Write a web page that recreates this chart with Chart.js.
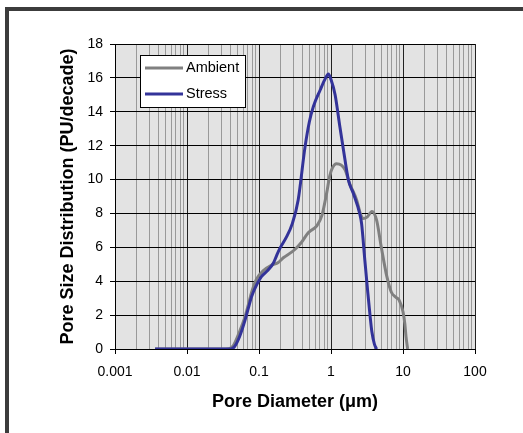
<!DOCTYPE html>
<html>
<head>
<meta charset="utf-8">
<script src="https://cdn.jsdelivr.net/npm/chart.js@4"></script>
<style>
  body { margin: 0; background: #fff; }
  canvas { display: block; }
</style>
</head>
<body>
<canvas id="psd" width="523" height="433"></canvas>
<script>
// pore diameter (um) and PSD values
const ambientDiam = [0.0036, 0.03, 0.038, 0.044, 0.054, 0.064, 0.071, 0.079, 0.093, 0.115, 0.15, 0.185, 0.22, 0.28, 0.32, 0.39, 0.48, 0.51, 0.63, 0.75, 0.87, 0.96, 1.05, 1.19, 1.39, 1.57, 1.8, 2.27, 2.6, 2.8, 3.2, 3.7, 4.3, 5.0, 5.95, 6.9, 8.0, 8.8, 10.0, 10.6, 11.0, 11.6];
const ambientPsd = [0, 0, 0.02, 0.2, 1.05, 1.9, 2.6, 3.35, 4.15, 4.62, 4.95, 5.1, 5.4, 5.7, 5.9, 6.3, 6.85, 6.95, 7.25, 7.9, 9.2, 10.2, 10.7, 10.93, 10.85, 10.57, 9.8, 8.8, 7.9, 7.7, 7.8, 8.12, 7.6, 6.0, 4.3, 3.35, 3.05, 2.9, 2.2, 1.5, 0.75, 0];

const stressDiam = [0.0036, 0.01, 0.03, 0.037, 0.042, 0.046, 0.054, 0.064, 0.071, 0.079, 0.093, 0.108, 0.134, 0.158, 0.175, 0.195, 0.24, 0.29, 0.35, 0.435, 0.5, 0.568, 0.71, 0.82, 0.92, 1.0, 1.14, 1.33, 1.49, 1.74, 2.04, 2.5, 2.66, 2.95, 3.25, 3.5, 3.7, 4.0, 4.3];
const stressPsd = [0, 0, 0, 0, 0.02, 0.15, 0.75, 1.7, 2.4, 3.1, 3.8, 4.27, 4.66, 5.06, 5.5, 5.94, 6.6, 7.4, 8.8, 11.9, 13.4, 14.3, 15.3, 15.9, 16.23, 15.9, 15.0, 13.1, 11.75, 10.0, 9.19, 8.0, 7.4, 5.25, 3.3, 1.9, 1.0, 0.3, 0];

const seriesNames = ["Ambient", "Stress"];
const seriesColors = ["#808080", "#333399"];

const xDecades = [0.001, 0.01, 0.1, 1, 10, 100];
const xTickLabels = ["0.001", "0.01", "0.1", "1", "10", "100"];
const yMin = 0, yMax = 18, yStep = 2;

const FONT = "'Liberation Sans', Arial, sans-serif";

function isDecade(v) {
  const l = Math.log10(v);
  return Math.abs(l - Math.round(l)) < 1e-6;
}

function toPoints(xs, ys) {
  return xs.map((x, i) => ({ x: x, y: ys[i] }));
}

// gridline ticks: 1..9 in every decade
const xGridTicks = [];
for (let i = 0; i < xDecades.length - 1; i++) {
  for (let k = 1; k <= 9; k++) {
    xGridTicks.push(Number((k * xDecades[i]).toPrecision(6)));
  }
}
xGridTicks.push(xDecades[xDecades.length - 1]);

// frame + grey plot background
const backdrop = {
  id: "backdrop",
  beforeDraw(chart) {
    const { ctx, chartArea: a } = chart;
    ctx.save();
    ctx.fillStyle = "#fff";
    ctx.fillRect(0, 0, chart.width, chart.height);
    ctx.fillStyle = "#3c3c3c";
    ctx.fillRect(5, 7, chart.width - 5, 4);
    ctx.fillRect(5, 7, 4, chart.height - 7);
    ctx.fillStyle = "#e3e3e3";
    ctx.fillRect(a.left, a.top, a.right - a.left, a.bottom - a.top);
    ctx.restore();
  },
};

// legend box drawn inside the plot
const boxLegend = {
  id: "boxLegend",
  afterDatasetsDraw(chart) {
    const { ctx } = chart;
    const x = 140, y = 55, w = 105, h = 52;
    ctx.save();
    ctx.fillStyle = "#fff";
    ctx.fillRect(x, y, w, h);
    ctx.strokeStyle = "#000";
    ctx.lineWidth = 1;
    ctx.strokeRect(x + 0.5, y + 0.5, w, h);
    ctx.font = "14.5px " + FONT;
    ctx.textBaseline = "middle";
    chart.data.datasets.forEach((ds, i) => {
      const ly = y + 13 + i * 26;
      ctx.strokeStyle = ds.borderColor;
      ctx.lineWidth = 3;
      ctx.beginPath();
      ctx.moveTo(x + 5, ly);
      ctx.lineTo(x + 43, ly);
      ctx.stroke();
      ctx.fillStyle = "#000";
      ctx.fillText(ds.label, x + 46, ly);
    });
    ctx.restore();
  },
};

new Chart(document.getElementById("psd"), {
  type: "scatter",
  data: {
    datasets: [
      {
        label: seriesNames[0],
        data: toPoints(ambientDiam, ambientPsd),
        borderColor: seriesColors[0],
        order: 1,
      },
      {
        label: seriesNames[1],
        data: toPoints(stressDiam, stressPsd),
        borderColor: seriesColors[1],
        order: 0,
      },
    ],
  },
  options: {
    responsive: false,
    animation: false,
    devicePixelRatio: 1,
    showLine: true,
    layout: { padding: { left: 0, top: 44, right: 48, bottom: 0 } },
    elements: {
      point: { radius: 0, hoverRadius: 0 },
      line: { borderWidth: 3, cubicInterpolationMode: "monotone", fill: false },
    },
    plugins: {
      legend: { display: false },
      tooltip: { enabled: false },
    },
    scales: {
      x: {
        type: "logarithmic",
        min: xDecades[0],
        max: xDecades[xDecades.length - 1],
        afterBuildTicks(scale) {
          scale.ticks = xGridTicks.map((v) => ({ value: v, major: isDecade(v) }));
        },
        afterFit(scale) {
          scale.height = 84;
        },
        ticks: {
          autoSkip: false,
          maxRotation: 0,
          padding: 10,
          color: "#000",
          font: { family: FONT, size: 14 },
          callback(value) {
            const i = xDecades.findIndex((d) => Math.abs(d - value) / d < 1e-6);
            return i >= 0 ? xTickLabels[i] : "";
          },
        },
        grid: {
          color: (c) => (c.tick && isDecade(c.tick.value) ? "#222" : "#999"),
          tickColor: (c) => (c.tick && isDecade(c.tick.value) ? "#000" : "rgba(0,0,0,0)"),
          tickLength: 5,
          lineWidth: 1,
        },
        border: { color: "#000", width: 1 },
        title: {
          display: true,
          text: "Pore Diameter (\u03bcm)",
          color: "#000",
          font: { family: FONT, size: 18, weight: "bold" },
          padding: { top: 4, bottom: 20 },
        },
      },
      y: {
        min: yMin,
        max: yMax,
        afterFit(scale) {
          scale.width = 115;
        },
        ticks: {
          stepSize: yStep,
          padding: 7,
          color: "#000",
          font: { family: FONT, size: 14 },
        },
        grid: {
          color: "#000",
          tickColor: "#000",
          tickLength: 5,
          lineWidth: 1,
        },
        border: { color: "#000", width: 1 },
        title: {
          display: true,
          text: "Pore Size Distribution (PU/decade)",
          color: "#000",
          font: { family: FONT, size: 18, weight: "bold" },
          padding: { top: 57, bottom: 4 },
        },
      },
    },
  },
  plugins: [backdrop, boxLegend],
});
</script>
</body>
</html>
